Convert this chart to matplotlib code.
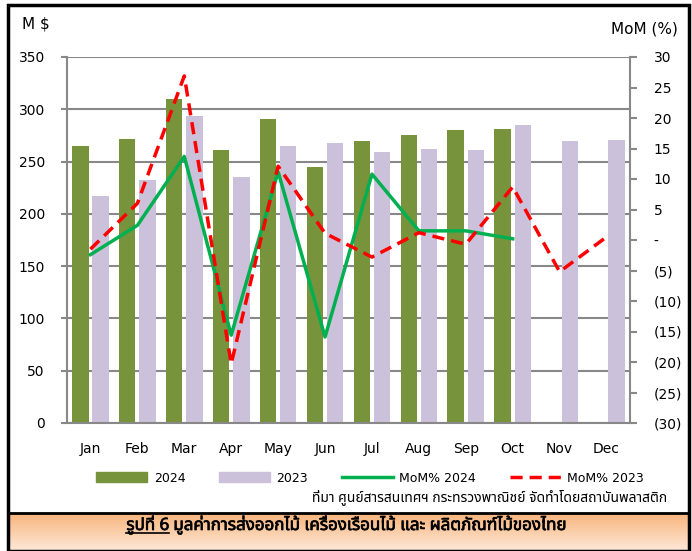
import numpy as np
import matplotlib
matplotlib.use('Agg')
import matplotlib.pyplot as plt
from matplotlib import font_manager
from matplotlib import patheffects
from matplotlib.ft2font import FT2Font
from matplotlib.patches import Patch, Rectangle
from matplotlib.lines import Line2D

months = ['Jan', 'Feb', 'Mar', 'Apr', 'May', 'Jun', 'Jul', 'Aug', 'Sep', 'Oct', 'Nov', 'Dec']
exports_2024 = [265, 272, 310, 261, 291, 245, 270, 275, 280, 281]
exports_2023 = [217, 232, 294, 235, 265, 268, 259, 262, 261, 285, 270, 271]
mom_2024 = [-2.4, 2.4, 13.7, -15.6, 11.2, -15.9, 10.8, 1.5, 1.5, 0.2]
mom_2023 = [-1.5, 6.0, 26.9, -20.3, 12.1, 1.1, -2.8, 1.2, -0.7, 8.7, -5.2, 0.5]
left_ticks = [0, 50, 100, 150, 200, 250, 300, 350]
right_ticks = [-30, -25, -20, -15, -10, -5, 0, 5, 10, 15, 20, 25, 30]

source_text = 'ที่มา ศูนย์สารสนเทศฯ กระทรวงพาณิชย์ จัดทำโดยสถาบันพลาสติก'
caption_head = 'รูปที่ 6'
caption_rest = ' มูลค่าการส่งออกไม้ เครื่องเรือนไม้ และ ผลิตภัณฑ์ไม้ของไทย'


def find_thai_font():
    preferred = ['Tahoma', 'Noto Sans Thai', 'Noto Sans Thai UI', 'Loma', 'Garuda',
                 'Sarabun', 'TH Sarabun New', 'Norasi', 'Kinnari', 'Waree']
    found = []
    for f in font_manager.fontManager.ttflist:
        try:
            if 0x0E01 in FT2Font(f.fname).get_charmap():
                found.append(f.name)
        except Exception:
            pass
    for name in preferred:
        if name in found:
            return name
    return found[0] if found else 'DejaVu Sans'


thai_font = find_thai_font()
thai_family = [thai_font, 'DejaVu Sans']

gray = '#888888'
fig = plt.figure(figsize=(6.92, 5.51), dpi=100)

ax = fig.add_axes([67 / 692, 1 - 423 / 551, 563 / 692, 366 / 551])
x = np.arange(len(months))
w = 0.35
ax.bar(x[:len(exports_2024)] - 0.215, exports_2024, w, color='#77933C', zorder=2)
ax.bar(x - 0.215 + 0.43, exports_2023, w, color='#CCC1DA', zorder=2)
ax.set_xlim(-0.5, 11.5)
ax.set_ylim(0, 350)
ax.set_yticks(left_ticks)
ax.set_xticks(x)
ax.set_xticklabels(months)
ax.yaxis.grid(True, color=gray, linewidth=1.5)
ax.set_axisbelow(True)
for s in ['top', 'right']:
    ax.spines[s].set_visible(False)
for s in ['left', 'bottom']:
    ax.spines[s].set_color(gray)
    ax.spines[s].set_linewidth(1.5)
ax.tick_params(axis='y', colors=gray, length=4, width=1.5, labelcolor='black', labelsize=10, pad=12)
ax.tick_params(axis='x', length=0, labelsize=10, pad=14)

ax2 = ax.twinx()
ax2.plot(x[:len(mom_2024)], mom_2024, color='#00B050', linewidth=2.5, zorder=3)
ax2.plot(x, mom_2023, color='#FF0000', linewidth=2.5, linestyle=(0, (3.5, 2)), zorder=4)
ax2.set_ylim(-30, 30)
ax2.set_yticks(right_ticks)
ax2.set_yticklabels([str(v) if v > 0 else ('-' if v == 0 else f'({-v})') for v in right_ticks])
for s in ['top', 'left', 'bottom']:
    ax2.spines[s].set_visible(False)
ax2.spines['right'].set_color(gray)
ax2.spines['right'].set_linewidth(1.5)
ax2.tick_params(axis='y', colors=gray, length=5, width=1.5, labelcolor='black', labelsize=10, pad=12)

fig.text(22 / 692, 1 - 24 / 551, 'M $', fontsize=11, va='center', ha='left')
fig.text(678 / 692, 1 - 29 / 551, 'MoM (%)', fontsize=11, va='center', ha='right')

handles = [Patch(color='#77933C'), Patch(color='#CCC1DA'),
           Line2D([], [], color='#00B050', linewidth=2.5),
           Line2D([], [], color='#FF0000', linewidth=2.5, linestyle=(0, (3.5, 2)))]
labels = ['2024', '2023', 'MoM% 2024', 'MoM% 2023']
fig.legend(handles, labels, loc='center', bbox_to_anchor=(0.535, 1 - 478 / 551), ncol=4,
           frameon=False, fontsize=9, handlelength=4.1, handleheight=0.9,
           columnspacing=2.7, handletextpad=0.5)

fig.text(667 / 692, 1 - 497 / 551, source_text, family=thai_family, fontsize=10,
         ha='right', va='center')

# outer frame
fig.patches.append(Rectangle((8 / 692, 0), 681 / 692, 1 - 5 / 551, transform=fig.transFigure,
                             fill=False, edgecolor='black', linewidth=2.5, zorder=10))

# caption box with gradient
cap = fig.add_axes([8 / 692, 0, 681 / 692, 38 / 551])
grad = np.linspace(0, 1, 50).reshape(-1, 1)
c_top = np.array([0xF8, 0xB4, 0x7C]) / 255
c_bot = np.array([0xFD, 0xE9, 0xD9]) / 255
img = c_top[None, None, :] * (1 - grad[:, :, None]) + c_bot[None, None, :] * grad[:, :, None]
cap.imshow(img, aspect='auto', extent=[0, 1, 0, 1])
cap.set_xlim(0, 1)
cap.set_ylim(0, 1)
cap.set_xticks([])
cap.set_yticks([])
for s in cap.spines.values():
    s.set_linewidth(2)
    s.set_color('black')

bold = [patheffects.withStroke(linewidth=0.5, foreground='black')]
base_y = 1 - 530 / 551
fig.canvas.draw()
r = fig.canvas.get_renderer()
t1 = fig.text(0, base_y, caption_head, family=thai_family, fontsize=12.2,
              fontweight='bold', va='baseline', path_effects=bold)
t2 = fig.text(0, base_y, caption_rest, family=thai_family, fontsize=12.2,
              fontweight='bold', va='baseline', path_effects=bold)
w1 = t1.get_window_extent(r).width
w2 = t2.get_window_extent(r).width
x0 = (fig.bbox.width - w1 - w2) / 2
t1.set_x(x0 / fig.bbox.width)
t2.set_x((x0 + w1) / fig.bbox.width)
b1 = t1.get_window_extent(r)
uy = base_y - 3 / fig.bbox.height
fig.add_artist(Line2D([b1.x0 / fig.bbox.width, b1.x1 / fig.bbox.width], [uy, uy],
                      transform=fig.transFigure, color='black', linewidth=1.2))

fig.savefig('out.png', dpi=100)
